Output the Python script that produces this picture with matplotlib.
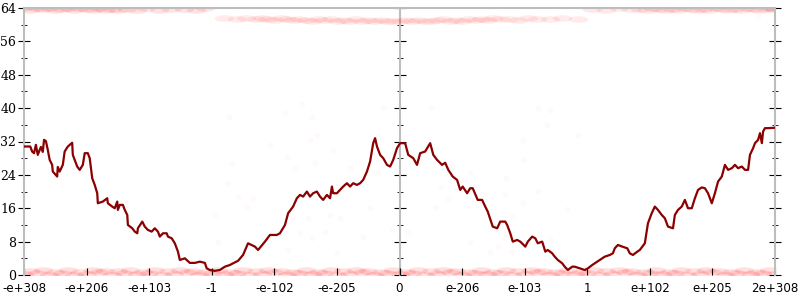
"""Float sample chart: bit-count samples and their running mean."""

import matplotlib
matplotlib.use("Agg")
import matplotlib.pyplot as plt
from matplotlib.markers import MarkerStyle
from matplotlib.ticker import MultipleLocator
from matplotlib.transforms import Affine2D

# X axis categories (one tick per magnitude step)
X_TICKS = [-6, -5, -4, -3, -2, -1, 0, 1, 2, 3, 4, 5, 6]
X_TICK_LABELS = [
    "-e+308", "-e+206", "-e+103", "-1", "-e-102", "-e-205", "0",
    "e-206", "e-103", "1", "e+102", "e+205", "2e+308",
]
Y_TICKS = [0, 8, 16, 24, 32, 40, 48, 56, 64]

# Running mean line
LINE_X = [
    -6.00, -5.90, -5.87, -5.84, -5.81, -5.78, -5.73, -5.70, -5.68, -5.65,
    -5.62, -5.59, -5.55, -5.54, -5.47, -5.46, -5.43, -5.38, -5.35, -5.30,
    -5.23, -5.22, -5.15, -5.11, -5.06, -5.03, -4.98, -4.95, -4.91, -4.87,
    -4.83, -4.82, -4.74, -4.67, -4.66, -4.59, -4.55, -4.51, -4.50, -4.47,
    -4.42, -4.39, -4.35, -4.34, -4.27, -4.23, -4.19, -4.18, -4.11, -4.07,
    -4.02, -3.96, -3.91, -3.86, -3.83, -3.78, -3.72, -3.70, -3.64, -3.59,
    -3.54, -3.51, -3.43, -3.35, -3.27, -3.19, -3.11, -3.08, -3.03, -2.95,
    -2.87, -2.79, -2.71, -2.66, -2.58, -2.50, -2.42, -2.31, -2.26, -2.15,
    -2.07, -1.96, -1.91, -1.83, -1.78, -1.70, -1.64, -1.59, -1.54, -1.48,
    -1.43, -1.38, -1.32, -1.27, -1.22, -1.16, -1.11, -1.08, -1.06, -1.00,
    -0.95, -0.90, -0.84, -0.79, -0.74, -0.68, -0.63, -0.58, -0.52, -0.47,
    -0.42, -0.39, -0.36, -0.31, -0.26, -0.20, -0.15, -0.10, -0.04, 0.01,
    0.09, 0.14, 0.22, 0.28, 0.33, 0.41, 0.49, 0.54, 0.60, 0.68,
    0.73, 0.78, 0.85, 0.92, 0.97, 1.01, 1.08, 1.13, 1.17, 1.25,
    1.32, 1.37, 1.41, 1.49, 1.56, 1.61, 1.69, 1.72, 1.77, 1.81,
    1.88, 1.93, 2.01, 2.05, 2.12, 2.17, 2.21, 2.28, 2.33, 2.37,
    2.44, 2.48, 2.53, 2.60, 2.64, 2.69, 2.76, 2.80, 2.88, 2.96,
    3.01, 3.08, 3.16, 3.20, 3.28, 3.36, 3.41, 3.44, 3.49, 3.56,
    3.64, 3.68, 3.73, 3.80, 3.84, 3.92, 3.97, 4.03, 4.08, 4.13,
    4.19, 4.24, 4.29, 4.37, 4.40, 4.45, 4.51, 4.56, 4.61, 4.67,
    4.72, 4.77, 4.83, 4.88, 4.93, 4.99, 5.04, 5.09, 5.15, 5.20,
    5.25, 5.31, 5.36, 5.41, 5.47, 5.52, 5.57, 5.60, 5.65, 5.68,
    5.73, 5.76, 5.79, 5.81, 5.84, 5.89, 6.00,
]
LINE_Y = [
    30.8, 30.8, 29.6, 29.2, 31.2, 28.8, 30.7, 29.5, 32.4, 32.1,
    30.0, 27.6, 26.4, 24.8, 23.6, 25.9, 24.8, 26.4, 29.6, 30.8,
    31.7, 28.8, 26.0, 25.2, 26.4, 29.2, 29.2, 28.0, 23.2, 21.6,
    19.6, 17.2, 17.6, 18.4, 17.2, 16.4, 16.0, 17.6, 15.6, 16.8,
    16.8, 15.6, 14.4, 12.0, 11.2, 10.4, 10.0, 11.2, 12.8, 11.6,
    10.8, 10.4, 11.2, 10.4, 9.2, 10.0, 10.0, 9.2, 8.8, 7.6,
    5.6, 3.6, 4.0, 2.9, 2.9, 3.2, 2.9, 1.6, 1.2, 1.0,
    1.2, 2.0, 2.4, 2.8, 3.4, 4.8, 7.6, 6.8, 6.0, 8.0,
    9.6, 9.6, 10.0, 12.0, 14.8, 16.4, 18.4, 19.2, 18.8, 20.0,
    18.8, 19.6, 20.0, 18.8, 18.0, 19.2, 18.4, 21.2, 19.6, 19.6,
    20.4, 21.2, 22.0, 21.2, 22.0, 21.6, 22.0, 22.8, 24.8, 27.2,
    31.6, 32.8, 30.8, 28.8, 28.0, 26.4, 26.0, 27.6, 30.4, 31.6,
    31.6, 28.8, 28.0, 26.4, 29.2, 29.6, 31.6, 28.8, 27.6, 26.4,
    26.9, 25.2, 23.6, 22.8, 20.4, 21.2, 19.6, 20.8, 20.8, 18.0,
    18.0, 16.4, 15.2, 11.6, 11.2, 12.8, 12.8, 12.0, 10.0, 8.0,
    8.4, 8.0, 6.8, 8.0, 9.2, 8.8, 7.6, 8.0, 5.6, 6.0,
    5.2, 4.4, 3.6, 2.8, 2.0, 1.2, 2.0, 2.0, 1.6, 1.2,
    1.6, 2.4, 3.2, 3.6, 4.4, 4.8, 5.2, 6.4, 7.2, 6.8,
    6.4, 5.2, 4.8, 5.6, 6.0, 7.6, 12.4, 14.8, 16.4, 15.6,
    14.4, 13.6, 11.6, 11.2, 14.4, 15.6, 16.4, 18.0, 16.0, 16.0,
    18.4, 20.4, 21.0, 20.8, 19.6, 17.2, 19.6, 22.4, 23.6, 26.4,
    25.2, 25.6, 26.4, 25.6, 26.0, 25.2, 25.2, 28.8, 30.4, 31.6,
    32.4, 34.0, 31.6, 34.4, 35.2, 35.2, 35.3,
]

# Samples near zero bits (bottom band)
BOTTOM_X = [
    -6.0, -5.9, -5.8, -5.7, -5.6, -5.5, -5.4, -5.3, -5.2, -5.1,
    -5.0, -4.9, -4.8, -4.7, -4.6, -4.5, -4.4, -4.3, -4.2, -4.1,
    -4.0, -3.9, -3.8, -3.7, -3.6, -3.5, -3.4, -3.3, -3.2, -3.1,
    -3.0, -2.9, -2.8, -2.7, -2.6, -2.5, -2.4, -2.3, -2.2, -2.1,
    -2.0, -1.9, -1.8, -1.7, -1.6, -1.5, -1.4, -1.3, -1.2, -1.1,
    -1.0, -0.9, -0.8, -0.7, -0.6, -0.5, -0.4, -0.3, -0.2, -0.1,
    0.0, 0.1, 0.2, 0.3, 0.4, 0.5, 0.6, 0.7, 0.8, 0.9,
    1.0, 1.1, 1.2, 1.3, 1.4, 1.5, 1.6, 1.7, 1.8, 1.9,
    2.0, 2.1, 2.2, 2.3, 2.4, 2.5, 2.6, 2.7, 2.8, 2.9,
    3.0, 3.1, 3.2, 3.3, 3.4, 3.5, 3.6, 3.7, 3.8, 3.9,
    4.0, 4.1, 4.2, 4.3, 4.4, 4.5, 4.6, 4.7, 4.8, 4.9,
    5.0, 5.1, 5.2, 5.3, 5.4, 5.5, 5.6, 5.7, 5.8, 5.9,
    6.0,
]
BOTTOM_Y = [
    0.2, 1.0, 0.5, 1.3, 0.1, 0.8, 0.4, 1.1, 0.0, 0.7,
    0.3, 1.2, 0.6, 0.9, 0.1, 1.0, 0.4, 1.3, 0.2, 0.8,
    0.5, 1.1, 0.0, 0.9, 0.3, 1.2, 0.6, 1.0, 0.1, 0.7,
    0.4, 1.3, 0.2, 0.8, 0.5, 1.1, 0.0, 0.9, 0.3, 1.2,
    0.6, 1.0, 0.1, 0.7, 0.4, 1.3, 0.2, 0.8, 0.5, 1.1,
    0.0, 0.9, 0.3, 1.2, 0.6, 1.0, 0.1, 0.7, 0.4, 1.3,
    0.2, 0.8, 0.5, 1.1, 0.0, 0.9, 0.3, 1.2, 0.6, 1.0,
    0.1, 0.7, 0.4, 1.3, 0.2, 0.8, 0.5, 1.1, 0.0, 0.9,
    0.3, 1.2, 0.6, 1.0, 0.1, 0.7, 0.4, 1.3, 0.2, 0.8,
    0.5, 1.1, 0.0, 0.9, 0.3, 1.2, 0.6, 1.0, 0.1, 0.7,
    0.4, 1.3, 0.2, 0.8, 0.5, 1.1, 0.0, 0.9, 0.3, 1.2,
    0.6, 1.0, 0.1, 0.7, 0.4, 1.3, 0.2, 0.8, 0.5, 1.1,
    0.3,
]

# Samples near 64 bits, huge negatives
TOP_LEFT_X = [
    -6.0, -5.9, -5.8, -5.7, -5.6, -5.5, -5.4, -5.3, -5.2, -5.1,
    -5.0, -4.9, -4.8, -4.7, -4.6, -4.5, -4.35, -4.2, -4.05, -3.85,
    -3.65, -3.45, -3.25, -3.1,
]
TOP_LEFT_Y = [
    63.9, 63.6, 64.0, 63.7, 63.9, 63.5, 63.8, 64.0, 63.6, 63.9,
    63.7, 63.5, 63.9, 63.6, 63.8, 63.5, 63.8, 63.6, 63.9, 63.5,
    63.7, 63.8, 63.6, 63.9,
]

# Samples around 61 bits, small magnitudes
MID_X = [
    -2.8, -2.6, -2.45, -2.3, -2.2, -2.1, -2.0, -1.9, -1.8, -1.7,
    -1.6, -1.5, -1.4, -1.3, -1.2, -1.1, -1.0, -0.9, -0.8, -0.7,
    -0.6, -0.5, -0.4, -0.3, -0.2, -0.1, 0.0, 0.1, 0.2, 0.3,
    0.4, 0.5, 0.6, 0.7, 0.8, 0.9, 1.0, 1.1, 1.2, 1.3,
    1.4, 1.5, 1.6, 1.75, 1.9, 2.05, 2.2, 2.4, 2.6, 2.85,
]
MID_Y = [
    61.5, 61.4, 61.6, 61.3, 61.5, 61.4, 61.2, 61.5, 61.3, 61.1,
    61.4, 61.2, 61.0, 61.3, 61.1, 61.4, 61.0, 61.2, 60.9, 61.3,
    61.0, 61.2, 60.8, 61.1, 60.9, 61.0, 60.8, 61.1, 60.9, 61.2,
    61.0, 60.8, 61.1, 61.3, 60.9, 61.2, 61.0, 61.3, 61.1, 61.4,
    61.2, 61.5, 61.3, 61.4, 61.2, 61.5, 61.3, 61.4, 61.6, 61.4,
]

# Samples near 64 bits, huge positives
TOP_RIGHT_X = [
    3.07, 3.3, 3.5, 3.7, 3.85, 3.95, 4.05, 4.15, 4.25, 4.35,
    4.45, 4.55, 4.65, 4.75, 4.85, 4.95, 5.05, 5.15, 5.25, 5.35,
    5.45, 5.55, 5.65, 5.75, 5.85, 5.92, 5.97, 6.0,
]
TOP_RIGHT_Y = [
    63.8, 63.6, 63.9, 63.7, 63.8, 63.6, 63.9, 63.7, 63.5, 63.8,
    63.6, 63.9, 63.7, 63.5, 63.8, 63.6, 63.9, 63.7, 63.5, 63.8,
    63.6, 63.9, 63.7, 63.6, 63.8, 63.9, 64.0, 63.8,
]

# Scattered stray samples
SPARSE_X = [
    -2.72, -1.56, -1.40, -1.83, -1.32, -1.43, -2.07, -1.06, -1.79, -2.68,
    -1.67, -1.35, -0.79, -0.36, -2.76, -2.58, -2.34, -2.43, -0.47, -2.95,
    -1.46, -1.11, -0.95, -1.59, -1.19, -0.58, -1.40, -2.90, -1.78, -1.00,
    -0.12, -0.26, 0.51, 2.22, 2.40, 2.35, 2.86, 1.98, 1.98, 0.83,
    1.13, 1.70, 0.67, 2.22, 1.69, 0.78, 1.97, 0.57, 2.67, 1.79,
    0.14, 1.70, 2.40, 1.13, 1.58, 1.45, 1.79, 0.09, 5.73,
]
SPARSE_Y = [
    37.8, 41.0, 37.9, 38.8, 33.6, 32.4, 31.2, 30.0, 28.4, 26.8,
    25.6, 26.8, 25.6, 24.4, 22.0, 18.8, 18.4, 16.4, 16.0, 14.4,
    13.6, 14.4, 13.6, 10.0, 10.4, 9.2, 8.8, 8.0, 6.0, 5.2,
    10.8, 40.3, 40.2, 40.0, 39.6, 36.0, 33.6, 32.4, 27.6, 26.0,
    24.4, 23.2, 21.0, 20.2, 19.3, 18.2, 17.2, 16.2, 15.8, 14.2,
    10.2, 9.6, 8.6, 8.0, 7.0, 5.6, 5.6, 24.0, 62.0,
]

LINE_COLOR = "#8b0000"
SAMPLE_COLOR = "#ff0000"
SPINE_COLOR = "#bdbdbd"


def style_y_axis(axis_obj):
    """Major ticks every 8, minor every 4, crossing the spine."""
    axis_obj.set_major_locator(MultipleLocator(8))
    axis_obj.set_minor_locator(MultipleLocator(4))


def main():
    fig = plt.figure(figsize=(8, 3), dpi=100)
    ax = fig.add_axes([24 / 800, 25 / 300, 751 / 800, 267 / 300])

    # Sample bands, drawn as wide smudges so neighbours blend together
    smudge = MarkerStyle("o", transform=Affine2D().scale(3.0, 1.0))
    band_kw = dict(marker=smudge, s=22, color=SAMPLE_COLOR, linewidths=0,
                   zorder=1)
    ax.scatter(BOTTOM_X, BOTTOM_Y, alpha=0.12, **band_kw)
    ax.scatter(TOP_LEFT_X, TOP_LEFT_Y, alpha=0.11, **band_kw)
    ax.scatter(MID_X, MID_Y, alpha=0.08, **band_kw)
    ax.scatter(TOP_RIGHT_X, TOP_RIGHT_Y, alpha=0.09, **band_kw)
    ax.scatter(SPARSE_X, SPARSE_Y, s=18, color=SAMPLE_COLOR, alpha=0.025,
               linewidths=0, zorder=1)

    # Running mean
    ax.plot(LINE_X, LINE_Y, color=LINE_COLOR, linewidth=1.6, zorder=3)

    ax.set_xlim(-6, 6)
    ax.set_ylim(0, 64)

    ax.set_xticks(X_TICKS)
    ax.set_xticklabels(X_TICK_LABELS, fontsize=8.6, family="DejaVu Sans")
    ax.set_yticks(Y_TICKS)
    ax.set_yticklabels([str(v) for v in Y_TICKS], fontsize=9,
                       family="DejaVu Serif")
    ax.yaxis.set_minor_locator(MultipleLocator(4))
    ax.yaxis.set_ticks_position("both")

    ax.tick_params(axis="x", direction="in", length=5, width=0.8,
                   color="black", pad=5)
    ax.tick_params(axis="y", which="major", direction="inout", length=9,
                   width=0.8, color="black", pad=1, labelright=False)
    ax.tick_params(axis="y", which="minor", direction="inout", length=4.5,
                   width=0.6, color="black")

    for name in ("left", "right", "top"):
        ax.spines[name].set_color(SPINE_COLOR)
        ax.spines[name].set_linewidth(1.5)
    ax.spines["bottom"].set_visible(False)

    # Centre axis at zero
    centre = ax.secondary_yaxis(0.5)
    style_y_axis(centre.yaxis)
    centre.tick_params(axis="y", which="major", direction="inout", length=9,
                       width=0.8, color="black", labelleft=False,
                       labelright=False)
    centre.tick_params(axis="y", which="minor", direction="inout", length=4.5,
                       width=0.6, color="black")
    for spine in centre.spines.values():
        spine.set_color(SPINE_COLOR)
        spine.set_linewidth(1.5)

    fig.savefig("out.png", dpi=100)


if __name__ == "__main__":
    main()
